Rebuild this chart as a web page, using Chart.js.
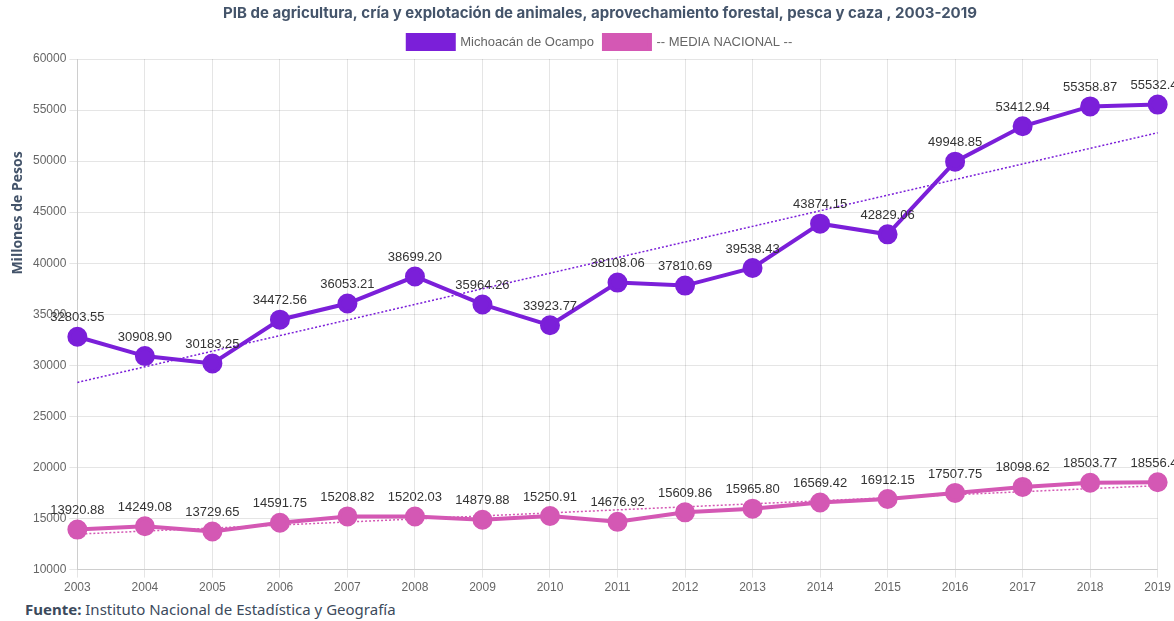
<!DOCTYPE html>
<html>
<head>
<meta charset="utf-8">
<script src="https://cdn.jsdelivr.net/npm/chart.js@4"></script>
<style>
    body { margin: 0; background: #fff; }
    #wrap { position: relative; width: 1174px; height: 621px; }
    #chart-box { position: absolute; left: 0; top: 0; width: 1174px; height: 598px; }
    #fuente {
        position: absolute; left: 25px; top: 599px;
        font-family: "Noto Sans", sans-serif; font-size: 15px; color: #3c4a5c;
    }
    #fuente b { color: #3c4a5c; }
</style>
</head>
<body>
<div id="wrap">
    <div id="chart-box"><canvas id="myChart"></canvas></div>
    <div id="fuente"><b>Fuente:</b> Instituto Nacional de Estadística y Geografía</div>
</div>
<script>
const years = ["2003", "2004", "2005", "2006", "2007", "2008", "2009", "2010", "2011",
    "2012", "2013", "2014", "2015", "2016", "2017", "2018", "2019"];

const michoacan = [32803.55, 30908.90, 30183.25, 34472.56, 36053.21, 38699.20, 35964.26,
    33923.77, 38108.06, 37810.69, 39538.43, 43874.15, 42829.06, 49948.85, 53412.94,
    55358.87, 55532.40];

const mediaNacional = [13920.88, 14249.08, 13729.65, 14591.75, 15208.82, 15202.03, 14879.88,
    15250.91, 14676.92, 15609.86, 15965.80, 16569.42, 16912.15, 17507.75, 18098.62,
    18503.77, 18556.40];

const PURPLE = "#7b1fd9";
const PINK = "#d458b4";

// linea de tendencia (minimos cuadrados)
function trendOf (values)
{
    const n = values.length;
    const mx = (n - 1) / 2;
    const my = values.reduce((a, b) => a + b, 0) / n;
    let sxy = 0, sxx = 0;
    values.forEach((v, i) => {
        sxy += (i - mx) * (v - my);
        sxx += (i - mx) * (i - mx);
    });
    const m = sxy / sxx;
    return values.map((v, i) => my + m * (i - mx));
}

const valueLabels = {
    id: "valueLabels",
    afterDatasetsDraw (chart)
    {
        const ctx = chart.ctx;
        ctx.save();
        ctx.font = "13px 'Liberation Sans', Arial, sans-serif";
        ctx.fillStyle = "#333";
        ctx.textAlign = "center";
        ctx.textBaseline = "middle";
        [0, 1].forEach(di => {
            const meta = chart.getDatasetMeta(di);
            meta.data.forEach((pt, i) => {
                const v = chart.data.datasets[di].data[i];
                ctx.fillText(v.toFixed(2), pt.x, pt.y - 19);
            });
        });
        ctx.restore();
    }
};

const yTitle = {
    id: "yTitle",
    afterDraw (chart)
    {
        const ctx = chart.ctx;
        ctx.save();
        ctx.translate(18, 213);
        ctx.rotate(-Math.PI / 2);
        ctx.font = "bold 14px 'Open Sans', sans-serif";
        ctx.fillStyle = "#44546a";
        ctx.textAlign = "center";
        ctx.textBaseline = "middle";
        ctx.fillText("Millones de Pesos", 0, 0);
        ctx.restore();
    }
};

const ctx = document.getElementById("myChart");

new Chart(ctx, {
    type: "line",
    data: {
        labels: years,
        datasets: [
            {
                label: "Michoacán de Ocampo",
                data: michoacan,
                borderColor: PURPLE,
                backgroundColor: PURPLE,
                borderWidth: 4,
                pointRadius: 8,
                pointHoverRadius: 8,
                tension: 0
            },
            {
                label: "-- MEDIA NACIONAL --",
                data: mediaNacional,
                borderColor: PINK,
                backgroundColor: PINK,
                borderWidth: 4,
                pointRadius: 8,
                pointHoverRadius: 8,
                tension: 0
            },
            {
                label: "trend1",
                data: trendOf(michoacan),
                borderColor: PURPLE,
                borderWidth: 1.5,
                borderDash: [2, 2],
                pointRadius: 0,
                fill: false
            },
            {
                label: "trend2",
                data: trendOf(mediaNacional),
                borderColor: PINK,
                borderWidth: 1.5,
                borderDash: [2, 2],
                pointRadius: 0,
                fill: false
            }
        ]
    },
    options: {
        responsive: true,
        maintainAspectRatio: false,
        animation: false,
        layout: { padding: { left: 30, right: 4, top: 0 } },
        plugins: {
            title: {
                display: true,
                text: "PIB de agricultura, cría y explotación de animales, aprovechamiento forestal, pesca y caza , 2003-2019",
                color: "#44546a",
                font: { family: "Inter", size: 15, weight: "bold" },
                padding: { top: 4, bottom: 3 }
            },
            legend: {
                labels: {
                    boxWidth: 46,
                    boxHeight: 14,
                    color: "#666",
                    font: { family: "'Liberation Sans', Arial", size: 13 },
                    filter: item => !item.text.startsWith("trend")
                }
            },
            tooltip: { enabled: false }
        },
        scales: {
            x: {
                ticks: { color: "#666", font: { family: "'Liberation Sans', Arial", size: 12 } },
                grid: { color: "rgba(0,0,0,0.1)" }
            },
            y: {
                min: 10000,
                max: 60000,
                ticks: {
                    stepSize: 5000,
                    color: "#666",
                    font: { family: "'Liberation Sans', Arial", size: 12 },
                    callback: v => String(v)
                },
                grid: { color: "rgba(0,0,0,0.1)" }
            }
        }
    },
    plugins: [valueLabels, yTitle]
});
</script>
</body>
</html>
